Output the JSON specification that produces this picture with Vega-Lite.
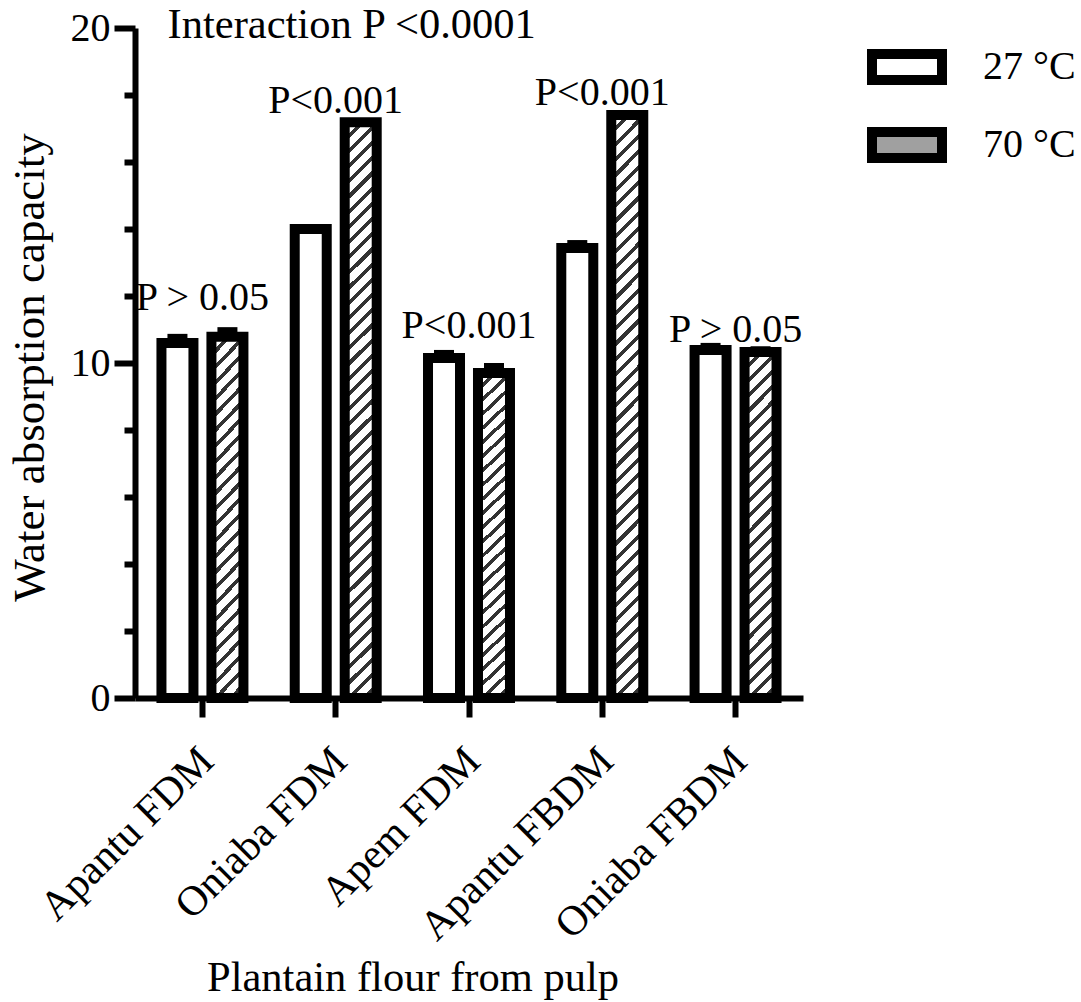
{
  "$schema": "https://vega.github.io/schema/vega-lite/v6.json",
  "width": 668,
  "height": 670,
  "autosize": "none",
  "padding": {"left": 135, "top": 28, "right": 278, "bottom": 304},
  "background": "white",
  "config": {
    "font": "Liberation Serif",
    "view": {"stroke": null},
    "axisY": {"labelOverlap": false},
    "axisQuantitative": {"labelOverlap": false},
    "text": {"font": "Liberation Serif", "fontSize": 40, "color": "black"}
  },
  "datasets": {
    "bars": [
      {"Sample": "Apantu FDM", "Temp": "27 °C", "Value": 10.6, "lo": 10.33, "hi": 10.87},
      {"Sample": "Apantu FDM", "Temp": "70 °C", "Value": 10.78, "lo": 10.49, "hi": 11.07},
      {"Sample": "Oniaba FDM", "Temp": "27 °C", "Value": 14.0, "lo": 13.85, "hi": 14.15},
      {"Sample": "Oniaba FDM", "Temp": "70 °C", "Value": 17.19, "lo": 17.08, "hi": 17.3},
      {"Sample": "Apem FDM", "Temp": "27 °C", "Value": 10.15, "lo": 9.91, "hi": 10.39},
      {"Sample": "Apem FDM", "Temp": "70 °C", "Value": 9.7, "lo": 9.4, "hi": 10.0},
      {"Sample": "Apantu FBDM", "Temp": "27 °C", "Value": 13.43, "lo": 13.19, "hi": 13.67},
      {"Sample": "Apantu FBDM", "Temp": "70 °C", "Value": 17.4, "lo": 17.25, "hi": 17.55},
      {"Sample": "Oniaba FBDM", "Temp": "27 °C", "Value": 10.39, "lo": 10.18, "hi": 10.6},
      {"Sample": "Oniaba FBDM", "Temp": "70 °C", "Value": 10.33, "lo": 10.16, "hi": 10.5}
    ],
    "pvals": [
      {"Sample": "Apantu FDM", "y": 11.58, "label": "P > 0.05"},
      {"Sample": "Oniaba FDM", "y": 17.46, "label": "P<0.001"},
      {"Sample": "Apem FDM", "y": 10.75, "label": "P<0.001"},
      {"Sample": "Apantu FBDM", "y": 17.7, "label": "P<0.001"},
      {"Sample": "Oniaba FBDM", "y": 10.63, "label": "P > 0.05"}
    ],
    "inter": [
      {"Sample": "Oniaba FDM", "Temp": "70 °C", "y": 19.7, "label": "Interaction P <0.0001"}
    ]
  },
  "encoding": {
    "x": {
      "field": "Sample",
      "type": "nominal",
      "sort": ["Apantu FDM", "Oniaba FDM", "Apem FDM", "Apantu FBDM", "Oniaba FBDM"],
      "scale": {"paddingInner": 0.25, "paddingOuter": 0.131},
      "axis": {
        "title": "Plantain flour from pulp",
        "titleFontSize": 42.5,
        "titleFontWeight": "normal",
        "titleFont": "Liberation Serif",
        "titleColor": "black",
        "titleX": 277.5,
        "titleY": 292,
        "titleBaseline": "alphabetic",
        "labelAngle": -45,
        "labelAlign": "right",
        "labelBaseline": "alphabetic",
        "labelFontSize": 42,
        "labelFont": "Liberation Serif",
        "labelColor": "black",
        "labelLimit": 0,
        "labelOffset": 13.5,
        "labelPadding": 46,
        "tickSize": 19,
        "tickWidth": 6,
        "tickColor": "black",
        "domainWidth": 6,
        "domainColor": "black"
      }
    }
  },
  "layer": [
    {
      "data": {"name": "bars"},
      "mark": {"type": "rule", "strokeWidth": 20, "color": "black", "strokeCap": "butt"},
      "encoding": {
        "xOffset": {"field": "Temp", "type": "nominal", "scale": {"domain": ["27 °C", "70 °C"], "paddingInner": 0, "paddingOuter": 0}},
        "y": {
          "field": "lo",
          "type": "quantitative",
          "scale": {"domain": [0, 20], "nice": false},
          "axis": {
            "title": "Water absorption capacity",
            "titleFontSize": 45,
            "titleFontWeight": "normal",
            "titleFont": "Liberation Serif",
            "titleColor": "black",
            "titleX": -92,
            "titleY": 339,
            "titleAngle": -90,
            "titleAlign": "center",
            "titleBaseline": "alphabetic",
            "values": [0,1,2,3,4,5,6,7,8,9,10,11,12,13,14,15,16,17,18,19,20],
            "labelExpr": "datum.value % 5 === 0 ? datum.label : ''",
            "labelOverlap": false,
            "labelFontSize": 40,
            "labelFont": "Liberation Serif",
            "labelColor": "black",
            "tickSize": 21,
            "tickDash": {"condition": {"test": "datum.value % 5 !== 0", "value": [11, 40]}, "value": [40, 0]},
            "tickWidth": 6,
            "tickColor": "black",
            "domainWidth": 6,
            "domainColor": "black",
            "grid": false,
            "labelPadding": 4
          }
        },
        "y2": {"field": "hi"}
      }
    },
    {
      "data": {"name": "bars"},
      "mark": {"type": "bar", "width": 32, "stroke": "black", "strokeWidth": 10},
      "encoding": {
        "xOffset": {"field": "Temp", "type": "nominal"},
        "y": {"field": "Value", "type": "quantitative"},
        "fill": {
          "condition": [
            {
              "test": "datum.Temp === '70 °C' && datum.Value > 15",
              "value": {
                "gradient": "linear", "x1": 0, "y1": 0, "x2": 0.0581, "y2": 1.052,
                "stops": [
                  {"offset": 0, "color": "#333"}, {"offset": 0.0085, "color": "#333"}, {"offset": 0.0085, "color": "#fff"}, {"offset": 0.025, "color": "#fff"},
                  {"offset": 0.025, "color": "#333"}, {"offset": 0.0335, "color": "#333"}, {"offset": 0.0335, "color": "#fff"}, {"offset": 0.05, "color": "#fff"},
                  {"offset": 0.05, "color": "#333"}, {"offset": 0.0585, "color": "#333"}, {"offset": 0.0585, "color": "#fff"}, {"offset": 0.075, "color": "#fff"},
                  {"offset": 0.075, "color": "#333"}, {"offset": 0.0835, "color": "#333"}, {"offset": 0.0835, "color": "#fff"}, {"offset": 0.1, "color": "#fff"},
                  {"offset": 0.1, "color": "#333"}, {"offset": 0.1085, "color": "#333"}, {"offset": 0.1085, "color": "#fff"}, {"offset": 0.125, "color": "#fff"},
                  {"offset": 0.125, "color": "#333"}, {"offset": 0.1335, "color": "#333"}, {"offset": 0.1335, "color": "#fff"}, {"offset": 0.15, "color": "#fff"},
                  {"offset": 0.15, "color": "#333"}, {"offset": 0.1585, "color": "#333"}, {"offset": 0.1585, "color": "#fff"}, {"offset": 0.175, "color": "#fff"},
                  {"offset": 0.175, "color": "#333"}, {"offset": 0.1835, "color": "#333"}, {"offset": 0.1835, "color": "#fff"}, {"offset": 0.2, "color": "#fff"},
                  {"offset": 0.2, "color": "#333"}, {"offset": 0.2085, "color": "#333"}, {"offset": 0.2085, "color": "#fff"}, {"offset": 0.225, "color": "#fff"},
                  {"offset": 0.225, "color": "#333"}, {"offset": 0.2335, "color": "#333"}, {"offset": 0.2335, "color": "#fff"}, {"offset": 0.25, "color": "#fff"},
                  {"offset": 0.25, "color": "#333"}, {"offset": 0.2585, "color": "#333"}, {"offset": 0.2585, "color": "#fff"}, {"offset": 0.275, "color": "#fff"},
                  {"offset": 0.275, "color": "#333"}, {"offset": 0.2835, "color": "#333"}, {"offset": 0.2835, "color": "#fff"}, {"offset": 0.3, "color": "#fff"},
                  {"offset": 0.3, "color": "#333"}, {"offset": 0.3085, "color": "#333"}, {"offset": 0.3085, "color": "#fff"}, {"offset": 0.325, "color": "#fff"},
                  {"offset": 0.325, "color": "#333"}, {"offset": 0.3335, "color": "#333"}, {"offset": 0.3335, "color": "#fff"}, {"offset": 0.35, "color": "#fff"},
                  {"offset": 0.35, "color": "#333"}, {"offset": 0.3585, "color": "#333"}, {"offset": 0.3585, "color": "#fff"}, {"offset": 0.375, "color": "#fff"},
                  {"offset": 0.375, "color": "#333"}, {"offset": 0.3835, "color": "#333"}, {"offset": 0.3835, "color": "#fff"}, {"offset": 0.4, "color": "#fff"},
                  {"offset": 0.4, "color": "#333"}, {"offset": 0.4085, "color": "#333"}, {"offset": 0.4085, "color": "#fff"}, {"offset": 0.425, "color": "#fff"},
                  {"offset": 0.425, "color": "#333"}, {"offset": 0.4335, "color": "#333"}, {"offset": 0.4335, "color": "#fff"}, {"offset": 0.45, "color": "#fff"},
                  {"offset": 0.45, "color": "#333"}, {"offset": 0.4585, "color": "#333"}, {"offset": 0.4585, "color": "#fff"}, {"offset": 0.475, "color": "#fff"},
                  {"offset": 0.475, "color": "#333"}, {"offset": 0.4835, "color": "#333"}, {"offset": 0.4835, "color": "#fff"}, {"offset": 0.5, "color": "#fff"},
                  {"offset": 0.5, "color": "#333"}, {"offset": 0.5085, "color": "#333"}, {"offset": 0.5085, "color": "#fff"}, {"offset": 0.525, "color": "#fff"},
                  {"offset": 0.525, "color": "#333"}, {"offset": 0.5335, "color": "#333"}, {"offset": 0.5335, "color": "#fff"}, {"offset": 0.55, "color": "#fff"},
                  {"offset": 0.55, "color": "#333"}, {"offset": 0.5585, "color": "#333"}, {"offset": 0.5585, "color": "#fff"}, {"offset": 0.575, "color": "#fff"},
                  {"offset": 0.575, "color": "#333"}, {"offset": 0.5835, "color": "#333"}, {"offset": 0.5835, "color": "#fff"}, {"offset": 0.6, "color": "#fff"},
                  {"offset": 0.6, "color": "#333"}, {"offset": 0.6085, "color": "#333"}, {"offset": 0.6085, "color": "#fff"}, {"offset": 0.625, "color": "#fff"},
                  {"offset": 0.625, "color": "#333"}, {"offset": 0.6335, "color": "#333"}, {"offset": 0.6335, "color": "#fff"}, {"offset": 0.65, "color": "#fff"},
                  {"offset": 0.65, "color": "#333"}, {"offset": 0.6585, "color": "#333"}, {"offset": 0.6585, "color": "#fff"}, {"offset": 0.675, "color": "#fff"},
                  {"offset": 0.675, "color": "#333"}, {"offset": 0.6835, "color": "#333"}, {"offset": 0.6835, "color": "#fff"}, {"offset": 0.7, "color": "#fff"},
                  {"offset": 0.7, "color": "#333"}, {"offset": 0.7085, "color": "#333"}, {"offset": 0.7085, "color": "#fff"}, {"offset": 0.725, "color": "#fff"},
                  {"offset": 0.725, "color": "#333"}, {"offset": 0.7335, "color": "#333"}, {"offset": 0.7335, "color": "#fff"}, {"offset": 0.75, "color": "#fff"},
                  {"offset": 0.75, "color": "#333"}, {"offset": 0.7585, "color": "#333"}, {"offset": 0.7585, "color": "#fff"}, {"offset": 0.775, "color": "#fff"},
                  {"offset": 0.775, "color": "#333"}, {"offset": 0.7835, "color": "#333"}, {"offset": 0.7835, "color": "#fff"}, {"offset": 0.8, "color": "#fff"},
                  {"offset": 0.8, "color": "#333"}, {"offset": 0.8085, "color": "#333"}, {"offset": 0.8085, "color": "#fff"}, {"offset": 0.825, "color": "#fff"},
                  {"offset": 0.825, "color": "#333"}, {"offset": 0.8335, "color": "#333"}, {"offset": 0.8335, "color": "#fff"}, {"offset": 0.85, "color": "#fff"},
                  {"offset": 0.85, "color": "#333"}, {"offset": 0.8585, "color": "#333"}, {"offset": 0.8585, "color": "#fff"}, {"offset": 0.875, "color": "#fff"},
                  {"offset": 0.875, "color": "#333"}, {"offset": 0.8835, "color": "#333"}, {"offset": 0.8835, "color": "#fff"}, {"offset": 0.9, "color": "#fff"},
                  {"offset": 0.9, "color": "#333"}, {"offset": 0.9085, "color": "#333"}, {"offset": 0.9085, "color": "#fff"}, {"offset": 0.925, "color": "#fff"},
                  {"offset": 0.925, "color": "#333"}, {"offset": 0.9335, "color": "#333"}, {"offset": 0.9335, "color": "#fff"}, {"offset": 0.95, "color": "#fff"},
                  {"offset": 0.95, "color": "#333"}, {"offset": 0.9585, "color": "#333"}, {"offset": 0.9585, "color": "#fff"}, {"offset": 0.975, "color": "#fff"},
                  {"offset": 0.975, "color": "#333"}, {"offset": 0.9835, "color": "#333"}, {"offset": 0.9835, "color": "#fff"}, {"offset": 1, "color": "#fff"}
                ]
              }
            },
            {
              "test": "datum.Temp === '70 °C'",
              "value": {
                "gradient": "linear", "x1": 0, "y1": 0, "x2": 0.1008, "y2": 1.0836,
                "stops": [
                  {"offset": 0, "color": "#333"}, {"offset": 0.0135, "color": "#333"}, {"offset": 0.0135, "color": "#fff"}, {"offset": 0.04, "color": "#fff"},
                  {"offset": 0.04, "color": "#333"}, {"offset": 0.0535, "color": "#333"}, {"offset": 0.0535, "color": "#fff"}, {"offset": 0.08, "color": "#fff"},
                  {"offset": 0.08, "color": "#333"}, {"offset": 0.0935, "color": "#333"}, {"offset": 0.0935, "color": "#fff"}, {"offset": 0.12, "color": "#fff"},
                  {"offset": 0.12, "color": "#333"}, {"offset": 0.1335, "color": "#333"}, {"offset": 0.1335, "color": "#fff"}, {"offset": 0.16, "color": "#fff"},
                  {"offset": 0.16, "color": "#333"}, {"offset": 0.1735, "color": "#333"}, {"offset": 0.1735, "color": "#fff"}, {"offset": 0.2, "color": "#fff"},
                  {"offset": 0.2, "color": "#333"}, {"offset": 0.2135, "color": "#333"}, {"offset": 0.2135, "color": "#fff"}, {"offset": 0.24, "color": "#fff"},
                  {"offset": 0.24, "color": "#333"}, {"offset": 0.2535, "color": "#333"}, {"offset": 0.2535, "color": "#fff"}, {"offset": 0.28, "color": "#fff"},
                  {"offset": 0.28, "color": "#333"}, {"offset": 0.2935, "color": "#333"}, {"offset": 0.2935, "color": "#fff"}, {"offset": 0.32, "color": "#fff"},
                  {"offset": 0.32, "color": "#333"}, {"offset": 0.3335, "color": "#333"}, {"offset": 0.3335, "color": "#fff"}, {"offset": 0.36, "color": "#fff"},
                  {"offset": 0.36, "color": "#333"}, {"offset": 0.3735, "color": "#333"}, {"offset": 0.3735, "color": "#fff"}, {"offset": 0.4, "color": "#fff"},
                  {"offset": 0.4, "color": "#333"}, {"offset": 0.4135, "color": "#333"}, {"offset": 0.4135, "color": "#fff"}, {"offset": 0.44, "color": "#fff"},
                  {"offset": 0.44, "color": "#333"}, {"offset": 0.4535, "color": "#333"}, {"offset": 0.4535, "color": "#fff"}, {"offset": 0.48, "color": "#fff"},
                  {"offset": 0.48, "color": "#333"}, {"offset": 0.4935, "color": "#333"}, {"offset": 0.4935, "color": "#fff"}, {"offset": 0.52, "color": "#fff"},
                  {"offset": 0.52, "color": "#333"}, {"offset": 0.5335, "color": "#333"}, {"offset": 0.5335, "color": "#fff"}, {"offset": 0.56, "color": "#fff"},
                  {"offset": 0.56, "color": "#333"}, {"offset": 0.5735, "color": "#333"}, {"offset": 0.5735, "color": "#fff"}, {"offset": 0.6, "color": "#fff"},
                  {"offset": 0.6, "color": "#333"}, {"offset": 0.6135, "color": "#333"}, {"offset": 0.6135, "color": "#fff"}, {"offset": 0.64, "color": "#fff"},
                  {"offset": 0.64, "color": "#333"}, {"offset": 0.6535, "color": "#333"}, {"offset": 0.6535, "color": "#fff"}, {"offset": 0.68, "color": "#fff"},
                  {"offset": 0.68, "color": "#333"}, {"offset": 0.6935, "color": "#333"}, {"offset": 0.6935, "color": "#fff"}, {"offset": 0.72, "color": "#fff"},
                  {"offset": 0.72, "color": "#333"}, {"offset": 0.7335, "color": "#333"}, {"offset": 0.7335, "color": "#fff"}, {"offset": 0.76, "color": "#fff"},
                  {"offset": 0.76, "color": "#333"}, {"offset": 0.7735, "color": "#333"}, {"offset": 0.7735, "color": "#fff"}, {"offset": 0.8, "color": "#fff"},
                  {"offset": 0.8, "color": "#333"}, {"offset": 0.8135, "color": "#333"}, {"offset": 0.8135, "color": "#fff"}, {"offset": 0.84, "color": "#fff"},
                  {"offset": 0.84, "color": "#333"}, {"offset": 0.8535, "color": "#333"}, {"offset": 0.8535, "color": "#fff"}, {"offset": 0.88, "color": "#fff"},
                  {"offset": 0.88, "color": "#333"}, {"offset": 0.8935, "color": "#333"}, {"offset": 0.8935, "color": "#fff"}, {"offset": 0.92, "color": "#fff"},
                  {"offset": 0.92, "color": "#333"}, {"offset": 0.9335, "color": "#333"}, {"offset": 0.9335, "color": "#fff"}, {"offset": 0.96, "color": "#fff"},
                  {"offset": 0.96, "color": "#333"}, {"offset": 0.9735, "color": "#333"}, {"offset": 0.9735, "color": "#fff"}, {"offset": 1, "color": "#fff"}
                ]
              }
            }
          ],
          "field": "Temp",
          "type": "nominal",
          "scale": {"domain": ["27 °C", "70 °C"], "range": ["white", "#a0a0a0"]},
          "legend": {
            "orient": "none",
            "legendX": 732,
            "legendY": -1,
            "title": null,
            "padding": 0,
            "symbolType": "M-1,-0.371H1V0.371H-1Z",
            "symbolSize": 4900,
            "symbolStrokeColor": "black",
            "symbolStrokeWidth": 10,
            "labelFontSize": 40,
            "labelFont": "Liberation Serif",
            "labelColor": "black",
            "labelOffset": 36,
            "rowPadding": 5
          }
        }
      }
    },
    {
      "data": {"name": "pvals"},
      "mark": {"type": "text", "baseline": "alphabetic", "align": "center"},
      "encoding": {
        "y": {"field": "y", "type": "quantitative"},
        "text": {"field": "label"}
      }
    },
    {
      "data": {"name": "inter"},
      "mark": {"type": "text", "baseline": "alphabetic", "align": "center", "fontSize": 42.5, "dx": -9},
      "encoding": {
        "xOffset": {"field": "Temp", "type": "nominal"},
        "y": {"field": "y", "type": "quantitative"},
        "text": {"field": "label"}
      }
    }
  ]
}
